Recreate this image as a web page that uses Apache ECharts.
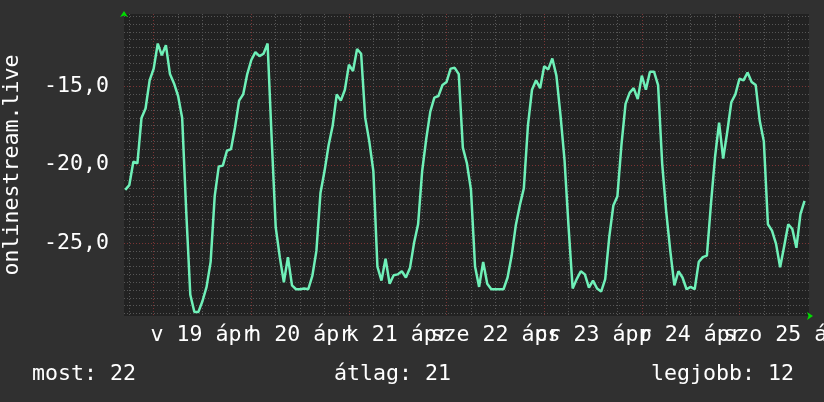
<!DOCTYPE html>
<html><head><meta charset="utf-8">
<script src="https://cdn.jsdelivr.net/npm/echarts@6/dist/echarts.min.js"></script>
<style>html,body{margin:0;padding:0;background:#303030;}#c{width:824px;height:402px;}</style>
</head><body><div id="c"></div>
<script>
// hourly samples, hour 0 = midnight starting Sunday 19 April
const startHour = -7;
const values = [
 -21.6,-21.3,-19.8,-19.9,-17.0,-16.4,-14.6,
 -13.85,-12.25,-13.0,-12.35,-14.2,-14.8,-15.6,-17.0,-23.0,-28.3,-29.4,-29.4,-28.7,-27.8,-26.2,-22.0,-20.1,-20.05,-19.1,-19.0,-17.6,-15.9,-15.5,-14.2,
 -13.3,-12.8,-13.05,-12.9,-12.25,-18.3,-24.0,-25.9,-27.5,-25.9,-27.7,-27.95,-27.95,-27.9,-27.95,-27.1,-25.5,-21.8,-20.4,-18.75,-17.5,-15.5,-15.9,-15.2,
 -13.6,-14.0,-12.6,-12.9,-17.0,-18.5,-20.4,-26.5,-27.4,-26.0,-27.6,-27.05,-27.0,-26.8,-27.2,-26.6,-25.0,-23.8,-20.4,-18.35,-16.6,-15.7,-15.6,-14.9,
 -14.7,-13.85,-13.8,-14.2,-18.9,-19.9,-21.6,-26.5,-27.8,-26.2,-27.6,-27.95,-27.95,-27.95,-27.95,-27.2,-25.8,-23.9,-22.6,-21.5,-17.5,-15.2,-14.6,-15.1,
 -13.7,-13.9,-13.2,-14.3,-16.8,-19.7,-24.0,-27.9,-27.3,-26.8,-27.0,-27.85,-27.4,-27.9,-28.1,-27.3,-24.6,-22.6,-22.0,-18.7,-16.1,-15.4,-15.1,-15.8,
 -14.3,-15.2,-14.05,-14.05,-14.9,-19.9,-23.0,-25.5,-27.7,-26.8,-27.2,-27.95,-27.8,-27.95,-26.2,-25.9,-25.8,-22.5,-19.5,-17.3,-19.6,-17.9,-16.0,-15.5,
 -14.5,-14.6,-14.1,-14.7,-14.9,-17.2,-18.5,-23.8,-24.2,-25.05,-26.55,-25.2,-23.8,-24.1,-25.3,-23.15,-22.3
];
const dayLabels = ['v 19 ápr','h 20 ápr','k 21 ápr','sze 22 ápr','cs 23 ápr','p 24 ápr','szo 25 ápr'];
const dayLabelHours = [12,36,60,84,108,132,156];
const yTickValues = [-25,-20,-15];
const yName = 'onlinestream.live';
const statTexts = ['most: 22','átlag: 21','legjobb: 12'];

const X_MIN = -7.3, X_MAX = 161.1, Y_MIN = -29.66, Y_MAX = -10.36;
const FONT = '"DejaVu Sans Mono", monospace';
const FS = 21.6;

const seriesData = values.map((v, i) => [startHour + i, v]);
const minorX = [], majorX = [], minorY = [], majorY = [];
for (let h = -6; h <= 160; h += 6) (h % 24 === 0 ? majorX : minorX).push(h);
for (let y = -29.5; y <= -10.5; y += 0.5) (Math.abs(y % 5) < 1e-9 ? majorY : minorY).push(y);
// day labels overlap each other (as in the original); spread them over two label axes
const evenHours = dayLabelHours.filter((h, i) => i % 2 === 0);
const oddHours = dayLabelHours.filter((h, i) => i % 2 === 1);

const minorLine = {color: '#565656', type: [1, 2], width: 1};
const majorLine = {color: '#7a3434', type: [1, 2], width: 1};
function gridAxis(custom, line, pos, min, max) {
  return {type: 'value', min: min, max: max, position: pos,
    axisLine: {show: false, onZero: false}, axisLabel: {show: false},
    axisTick: {show: false, customValues: custom},
    splitLine: {show: true, lineStyle: line}};
}
function labelAxis(hours, withArrow) {
  return {
    type: 'value', min: X_MIN, max: X_MAX, position: 'bottom', offset: 0,
    axisLine: {show: withArrow, onZero: false, symbol: ['none', 'arrow'], symbolSize: [6, 6], symbolOffset: [0, 4], lineStyle: {color: '#00dd00', width: 0}},
    axisTick: {show: false, customValues: hours},
    splitLine: {show: false},
    axisLabel: {show: true, customValues: hours, margin: 8, color: '#ffffff', fontFamily: FONT, fontSize: FS,
      hideOverlap: false, showMinLabel: true, showMaxLabel: true,
      formatter: v => dayLabels[dayLabelHours.indexOf(v)] || ''}
  };
}
const chart = echarts.init(document.getElementById('c'), null, {renderer: 'canvas'});

chart.setOption({
  backgroundColor: '#303030',
  animation: false,
  grid: {left: 124, right: 15, top: 14, bottom: 86, show: true, backgroundColor: '#222222', borderWidth: 0,
    containLabel: false, outerBoundsMode: 'none'},
  xAxis: [gridAxis(minorX, minorLine, 'bottom', X_MIN, X_MAX), gridAxis(majorX, majorLine, 'top', X_MIN, X_MAX),
    labelAxis(evenHours, true), labelAxis(oddHours, false)],
  yAxis: [gridAxis(minorY, minorLine, 'left', Y_MIN, Y_MAX), gridAxis(majorY, majorLine, 'right', Y_MIN, Y_MAX), {
    type: 'value', min: Y_MIN, max: Y_MAX, position: 'left',
    name: yName, nameLocation: 'middle', nameGap: 101,
    nameTextStyle: {color: '#ffffff', fontFamily: FONT, fontSize: FS},
    axisLine: {show: true, onZero: false, symbol: ['none', 'arrow'], symbolSize: [6, 6], symbolOffset: [0, 3], lineStyle: {color: '#00dd00', width: 0}},
    axisTick: {show: false, customValues: yTickValues},
    splitLine: {show: false},
    axisLabel: {show: true, customValues: yTickValues, margin: 15, color: '#ffffff', fontFamily: FONT, fontSize: FS,
      showMinLabel: true, showMaxLabel: true,
      formatter: v => v.toFixed(1).replace('.', ',')}
  }],
  series: [{
    type: 'line', xAxisIndex: 2, yAxisIndex: 2, data: seriesData,
    showSymbol: false, symbol: 'none',
    lineStyle: {color: '#6ff0b8', width: 2.5}, z: 5
  }],
  graphic: [
    {type: 'text', x: 32, y: 374, style: {text: statTexts[0], fill: '#ffffff', font: FS + 'px ' + FONT, verticalAlign: 'middle', align: 'left'}},
    {type: 'text', x: 334, y: 374, style: {text: statTexts[1], fill: '#ffffff', font: FS + 'px ' + FONT, verticalAlign: 'middle', align: 'left'}},
    {type: 'text', x: 794, y: 374, style: {text: statTexts[2], fill: '#ffffff', font: FS + 'px ' + FONT, verticalAlign: 'middle', align: 'right'}}
  ]
});
</script></body></html>
